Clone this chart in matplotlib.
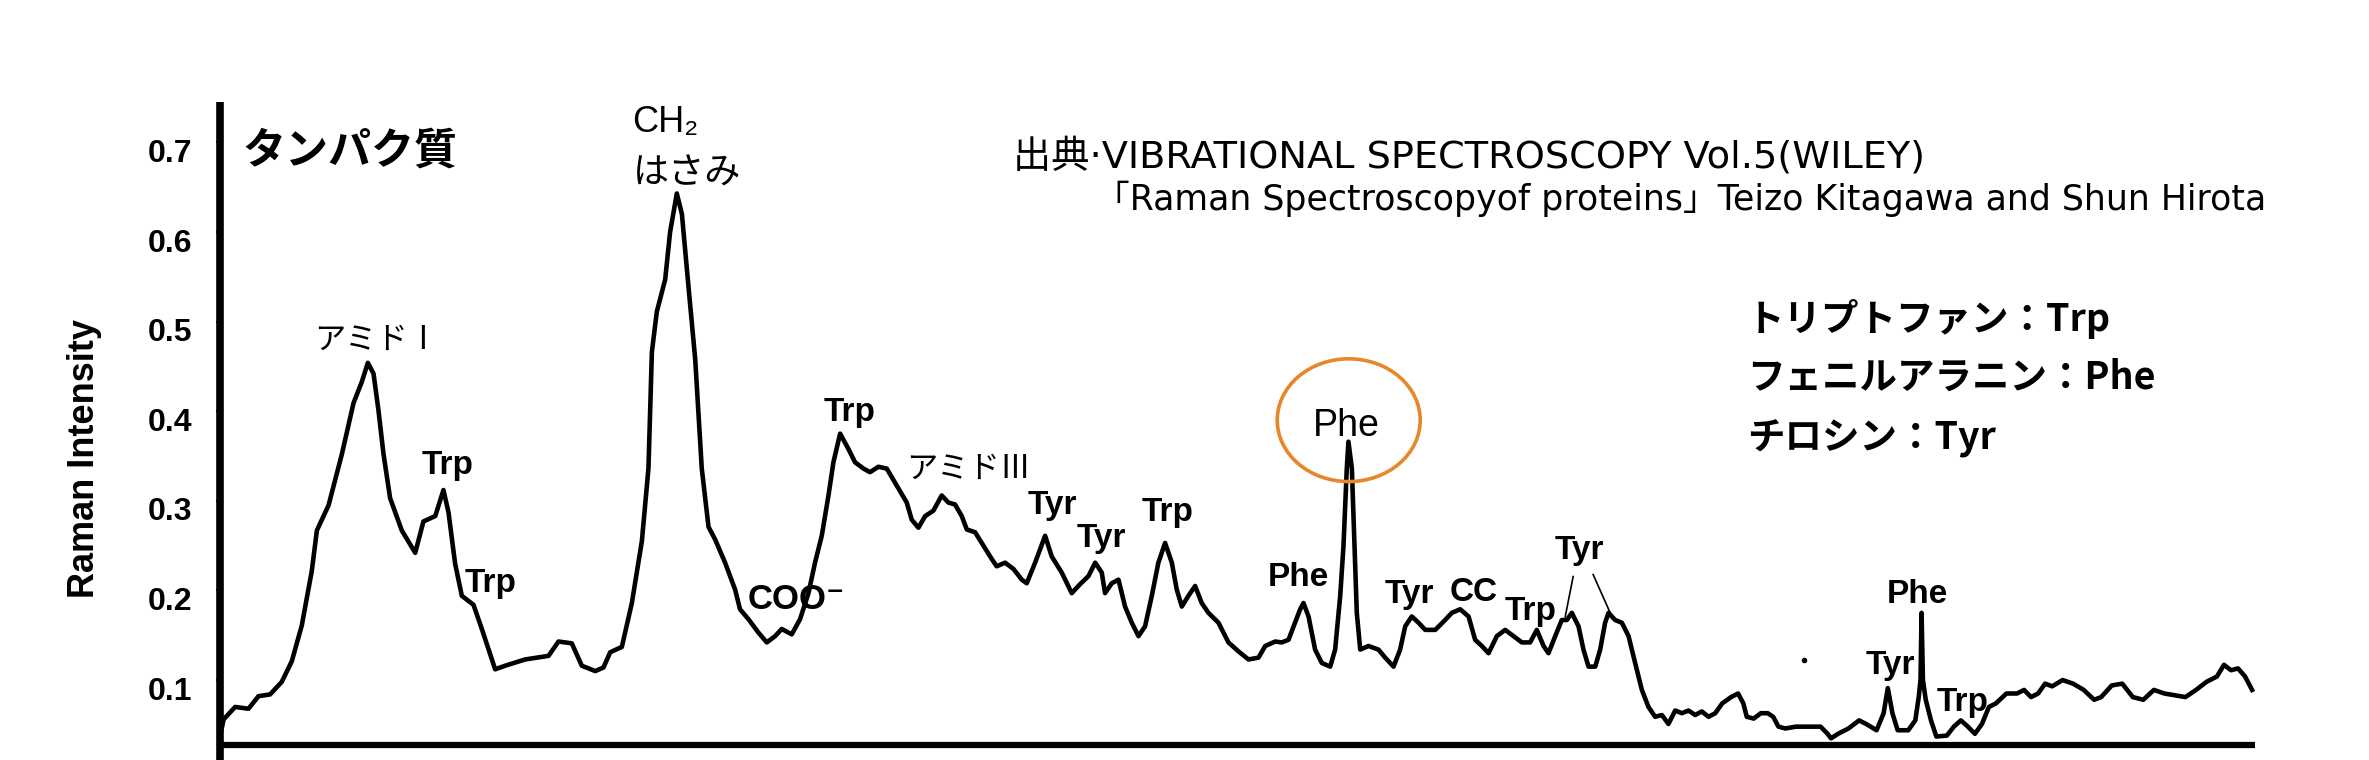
"""
Raman spectrum of a protein with band assignments (re-drawn).
"""

import matplotlib
matplotlib.use("Agg")
import matplotlib.pyplot as plt
from matplotlib.patches import Ellipse
from matplotlib.transforms import ScaledTranslation

# Raman shift (cm-1, high -> low) and intensity
wavenumber = [
    1755.0, 1753.7, 1745.9, 1737.0, 1730.3, 1722.5, 1714.7, 1708.0, 1701.3, 1694.6,
    1691.2, 1683.4, 1674.5, 1666.7, 1661.1, 1657.1, 1653.3, 1650.0, 1646.6, 1642.2,
    1634.4, 1625.4, 1619.9, 1612.0, 1606.5, 1603.1, 1598.7, 1594.2, 1586.4, 1580.8,
    1571.9, 1565.2, 1551.8, 1536.2, 1529.5, 1520.6, 1513.9, 1504.9, 1499.4, 1494.9,
    1487.1, 1480.4, 1473.7, 1469.3, 1467.0, 1463.7, 1458.1, 1454.8, 1450.3, 1446.9,
    1442.5, 1438.0, 1433.6, 1429.1,
    1424.7, 1418.0, 1411.3, 1408.0, 1402.4, 1395.7, 1390.1, 1384.5, 1380.1, 1373.4,
    1367.8, 1362.2, 1357.8, 1353.3, 1348.8, 1345.5, 1341.0, 1335.5, 1331.0, 1325.4,
    1321.0, 1315.4, 1309.8, 1303.1, 1296.4, 1293.1, 1288.6, 1284.1, 1278.6, 1273.0,
    1268.5, 1264.1, 1259.6, 1256.2, 1250.7, 1245.1, 1239.5, 1236.2, 1230.6, 1225.0,
    1219.4, 1216.1, 1210.5, 1203.8, 1199.4, 1192.7, 1186.0, 1180.4, 1174.8, 1170.3,
    1165.9, 1163.7, 1159.2, 1154.7, 1150.3, 1145.8, 1141.3, 1136.9, 1132.4, 1128.0,
    1123.5, 1119.0, 1115.7, 1112.3, 1107.9, 1103.4, 1099.0, 1094.5, 1087.8,
    1081.1, 1074.4, 1067.7, 1061.0, 1056.5, 1049.8, 1045.4, 1040.9, 1036.5, 1033.1,
    1030.9, 1027.5, 1023.1, 1018.6, 1013.0, 1009.7, 1006.3, 1004.1, 1001.9, 1000.8,
    998.5, 996.7, 995.2, 992.9, 987.4, 980.7, 976.2, 970.6, 966.2, 962.8,
    958.4, 953.9, 949.4, 942.7, 936.1, 931.6, 926.0, 920.4, 916.0, 911.5,
    907.0, 901.5, 895.9, 890.3, 884.7, 879.2, 874.7, 870.2, 866.9, 862.4,
    858.0, 854.6, 851.3, 846.8, 843.5, 840.1, 835.6, 832.3, 829.0, 826.7,
    822.3, 817.8, 813.3, 808.9, 804.4, 800.0, 795.5, 791.0, 786.6, 782.1,
    777.6, 773.2, 768.7, 764.3, 759.8,
    755.3, 750.6, 744.7, 740.0, 736.5, 734.2, 729.5, 724.8, 720.1, 716.5,
    713.0, 708.3, 701.3, 694.2, 684.8, 680.1, 677.8, 673.1, 666.1, 659.0,
    654.3, 647.3, 642.6, 639.8, 636.7, 633.2, 626.1, 621.4, 619.1, 617.9,
    617.2, 616.3, 614.4, 610.9, 607.3, 600.3, 595.6, 590.9, 586.2, 581.5,
    576.8, 572.1, 567.4, 560.4, 553.3, 548.6, 543.9, 539.2, 534.5, 529.8,
    522.8, 515.8, 508.7, 501.7, 497.0, 489.9, 482.9, 475.8, 468.8, 461.7,
    454.7, 447.6, 440.6, 433.5, 426.5, 419.5, 414.8, 410.1, 405.4, 400.7,
    396.0,
]
intensity = [
    0.045, 0.056, 0.070, 0.068, 0.082, 0.084, 0.098, 0.121, 0.161, 0.222,
    0.267, 0.295, 0.352, 0.409, 0.433, 0.454, 0.442, 0.401, 0.352, 0.303,
    0.267, 0.242, 0.277, 0.283, 0.312, 0.287, 0.230, 0.194, 0.184, 0.157,
    0.112, 0.116, 0.123, 0.127, 0.143, 0.141, 0.116, 0.110, 0.114, 0.131,
    0.137, 0.186, 0.255, 0.336, 0.466, 0.511, 0.547, 0.600, 0.643, 0.620,
    0.539, 0.458, 0.336, 0.271,
    0.257, 0.231, 0.201, 0.179, 0.168, 0.153, 0.142, 0.149, 0.157, 0.151,
    0.168, 0.197, 0.231, 0.261, 0.306, 0.343, 0.375, 0.358, 0.343, 0.336,
    0.332, 0.338, 0.336, 0.317, 0.298, 0.279, 0.270, 0.283, 0.289, 0.306,
    0.298, 0.296, 0.283, 0.268, 0.265, 0.250, 0.235, 0.227, 0.231, 0.224,
    0.212, 0.208, 0.231, 0.261, 0.238, 0.220, 0.197, 0.207, 0.216, 0.231,
    0.220, 0.197, 0.208, 0.212, 0.182, 0.164, 0.149, 0.160, 0.194, 0.231,
    0.253, 0.231, 0.201, 0.182, 0.194, 0.205, 0.186, 0.175, 0.164,
    0.142, 0.132, 0.123, 0.125, 0.138, 0.143, 0.142, 0.145, 0.164, 0.179,
    0.186, 0.171, 0.134, 0.119, 0.115, 0.134, 0.194, 0.250, 0.336, 0.366,
    0.336, 0.250, 0.175, 0.134, 0.138, 0.134, 0.125, 0.115, 0.134, 0.160,
    0.171, 0.164, 0.156, 0.156, 0.167, 0.175, 0.179, 0.171, 0.145, 0.138,
    0.130, 0.149, 0.156, 0.149, 0.142, 0.142, 0.156, 0.138, 0.130, 0.149,
    0.167, 0.167, 0.175, 0.160, 0.134, 0.115, 0.115, 0.134, 0.164, 0.175,
    0.167, 0.164, 0.149, 0.119, 0.089, 0.070, 0.059, 0.061, 0.051, 0.066,
    0.063, 0.066, 0.061, 0.065, 0.059,
    0.063, 0.074, 0.081, 0.085, 0.074, 0.059, 0.057, 0.063, 0.063, 0.059,
    0.048, 0.046, 0.048, 0.048, 0.048, 0.040, 0.035, 0.040, 0.046, 0.055,
    0.051, 0.044, 0.063, 0.091, 0.063, 0.044, 0.044, 0.055, 0.081, 0.100,
    0.175, 0.100, 0.078, 0.055, 0.037, 0.038, 0.048, 0.055, 0.048, 0.040,
    0.051, 0.070, 0.074, 0.085, 0.085, 0.089, 0.081, 0.085, 0.096, 0.093,
    0.100, 0.096, 0.089, 0.078, 0.081, 0.094, 0.096, 0.081, 0.078, 0.089,
    0.085, 0.083, 0.081, 0.089, 0.098, 0.104, 0.117, 0.111, 0.113, 0.104,
    0.089,
]

y_ticks = [0.1, 0.2, 0.3, 0.4, 0.5, 0.6, 0.7]

# band labels: text, Raman shift, intensity (centre of the label)
peak_labels = [
    ("Trp", 1604, 0.339),
    ("Trp", 1575, 0.208),
    ("Trp", 1335, 0.399),
    ("Tyr", 1199, 0.295),
    ("Tyr", 1166, 0.258),
    ("Trp", 1122, 0.287),
    ("Phe", 1034, 0.214),
    ("Tyr", 960, 0.195),
    ("CC", 917, 0.198),
    ("Trp", 879, 0.176),
    ("Tyr", 846, 0.245),
    ("Phe", 620, 0.196),
    ("Tyr", 638, 0.116),
    ("Trp", 590, 0.075),
]
amide_labels = [("アミドⅠ", 1651, 0.480), ("アミドⅢ", 1255, 0.336)]

legend_lines = ["トリプトファン：Trp", "フェニルアラニン：Phe", "チロシン：Tyr"]
legend_y = [0.662, 0.572, 0.477]
source_lines = [
    "出典·VIBRATIONAL SPECTROSCOPY Vol.5(WILEY)",
    "「Raman Spectroscopyof proteins」Teizo Kitagawa and Shun Hirota",
]

LATIN = ["Liberation Sans", "Noto Sans CJK JP", "DejaVu Sans"]
WIDE = ["DejaVu Sans", "Noto Sans CJK JP"]
JP = ["Noto Sans CJK JP", "DejaVu Sans"]

plt.rcParams["font.family"] = JP

fig = plt.figure(figsize=(23.69, 7.6), dpi=100)
ax = fig.add_axes([0.0929, 0.0197, 0.859, 0.846])

ax.plot(wavenumber, intensity, color="black", lw=3.3, solid_joinstyle="round")
ax.set_xlim(1756, 394)
ax.set_ylim(0.0275, 0.745)

# axes frame: thick left line running past the baseline, thick baseline
for s in ax.spines.values():
    s.set_visible(False)
ax.plot([0, 0], [-0.03, 1.0], transform=ax.transAxes, color="black",
        lw=5.5, clip_on=False, solid_capstyle="butt")
ax.plot([0, 1], [0, 0], transform=ax.transAxes, color="black",
        lw=4.5, clip_on=False, solid_capstyle="butt")

ax.set_xticks([])
ax.set_yticks(y_ticks)
ax.set_yticklabels([f"{v:.1f}" for v in y_ticks])
ax.tick_params(axis="y", length=3, width=1.5, pad=17, labelsize=23)
# the printed labels sit a little below their tick marks
shift = ScaledTranslation(0, -0.08, fig.dpi_scale_trans)
for lab in ax.get_yticklabels():
    lab.set_family(LATIN)
    lab.set_fontweight("bold")
    lab.set_transform(lab.get_transform() + shift)
ax.set_ylabel("Raman Intensity", fontsize=26, family=LATIN, fontweight="bold")
ax.yaxis.set_label_coords(-0.058, 0.445)

ax.text(0.011, 0.925, "タンパク質", transform=ax.transAxes, fontsize=31,
        fontweight="bold", va="center", ha="left")

for text, x, y in peak_labels:
    ax.text(x, y, text, fontsize=24, family=LATIN, fontweight="bold",
            ha="center", va="center")
for text, x, y in amide_labels:
    ax.text(x, y, text, fontsize=22.5, ha="center", va="center")

# CH2 scissoring label above the big band, and the one cut off below the axis
ax.text(1480, 0.722, "CH₂", fontsize=26, family=LATIN, ha="left", va="center")
ax.text(1480, 0.665, "はさみ", fontsize=26, ha="left", va="center")
ax.text(1466, 0.012, "CH₂", fontsize=24, family=LATIN, ha="center", va="top",
        clip_on=False)
ax.text(1370, 0.19, "COO⁻", fontsize=25, family=LATIN, fontweight="bold",
        ha="center", va="center")

# Phe 1003 band highlighted
ax.text(1002, 0.384, "Phe", fontsize=27, family=LATIN, ha="center", va="center")
ax.add_patch(Ellipse((1000.6, 0.390), 95.7, 0.137, fill=False,
                     edgecolor="#E8862A", lw=2.6, zorder=5))

# leader lines from the Tyr label to the 850/830 doublet
ax.plot([850.4, 855.7], [0.2155, 0.1707], color="black", lw=1.2)
ax.plot([837.0, 825.6], [0.2177, 0.175], color="black", lw=1.2)

# small speck in the original scan
ax.plot([696], [0.122], marker="o", ms=3, color="black")

for line, y in zip(legend_lines, legend_y):
    ax.text(0.7504, y, line, transform=ax.transAxes, fontsize=27,
            fontweight="bold", ha="left", va="center")

ax.text(0.3897, 0.916, source_lines[0], transform=ax.transAxes, fontsize=27.5,
        family=WIDE, ha="left", va="center")
ax.text(0.430, 0.849, source_lines[1], transform=ax.transAxes, fontsize=25,
        family=WIDE, ha="left", va="center")

fig.savefig("out.png", dpi=100)
plt.close(fig)
